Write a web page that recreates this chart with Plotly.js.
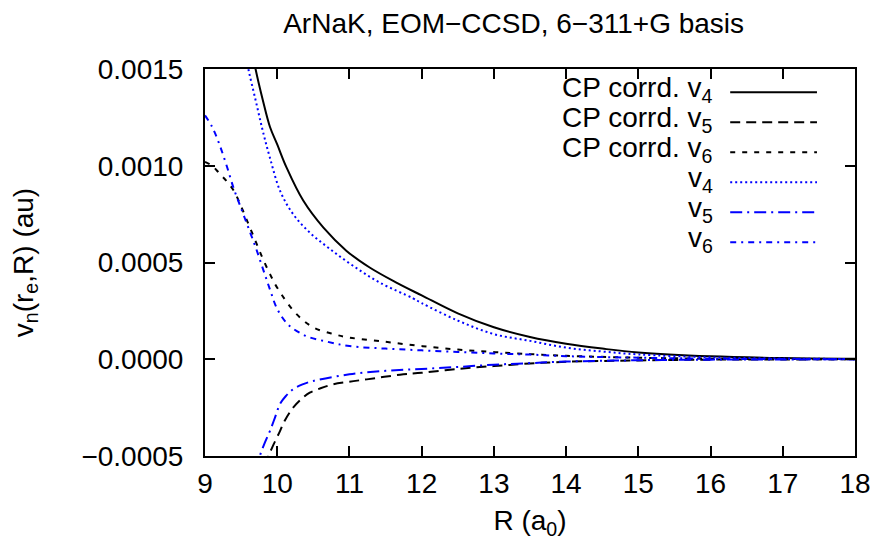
<!DOCTYPE html>
<html>
<head>
<meta charset="utf-8">
<script src="https://cdn.plot.ly/plotly-3.0.1.min.js"></script>
<style>html,body{margin:0;padding:0;background:#fff;}#chart{width:878px;height:548px;}</style>
</head>
<body>
<div id="chart"></div>
<script>
// ---- data ----
const cpV4X = [9.65, 9.70, 9.8, 9.9, 10.0, 10.13, 10.36, 10.64, 10.96, 11.28, 11.65, 12.0, 12.5, 13.0, 13.5, 14, 14.5, 15, 16, 17, 18];
const cpV4Y = [0.0016, 0.0015, 0.00134, 0.0012, 0.00111, 0.00099, 0.00082, 0.00068, 0.00056, 0.000474, 0.000396, 0.00033, 0.000237, 0.000165, 0.000115, 0.00008, 0.000055, 0.000035, 0.000015, 0.000006, 0.000002];

const cpV5X = [9.85, 9.88, 9.95, 10.04, 10.1, 10.22, 10.35, 10.45, 10.6, 10.77, 11.0, 11.24, 11.7, 12, 12.5, 13, 13.5, 14, 15, 16, 17, 18];
const cpV5Y = [-0.00055, -0.0005, -0.00044, -0.00037, -0.00032, -0.00025, -0.0002, -0.000173, -0.00015, -0.00013, -0.000116, -0.000104, -0.00008, -0.00007, -0.00005, -0.000035, -0.000022, -0.000013, -0.000006, -0.000002, -0.000001, 0];

const cpV6X = [9.0, 9.1, 9.2, 9.3, 9.4, 9.5, 9.6, 9.7, 9.8, 9.9, 10.0, 10.25, 10.5, 10.8, 11, 11.5, 12, 12.5, 13, 13.5, 14, 15, 16, 17, 18];
const cpV6Y = [0.00102, 0.001, 0.00096, 0.00092, 0.00087, 0.00079, 0.0007, 0.00061, 0.00052, 0.00044, 0.00037, 0.00024, 0.000165, 0.000128, 0.000112, 0.00009, 0.000068, 0.00005, 0.000037, 0.000027, 0.000018, 0.000008, 0.000003, 0.000001, 0];

const v4X = [9.55, 9.6, 9.7, 9.8, 9.9, 10.04, 10.22, 10.45, 10.73, 11.05, 11.42, 11.88, 12.0, 12.5, 13, 13.5, 14, 14.5, 15, 16, 17, 18];
const v4Y = [0.0016, 0.0015, 0.00134, 0.00118, 0.00104, 0.00087, 0.00075, 0.000655, 0.00057, 0.000483, 0.000396, 0.000315, 0.00029, 0.0002, 0.00013, 0.000095, 0.00006, 0.00004, 0.000025, 0.00001, 0.000004, 0.000001];

const v5X = [9.72, 9.76, 9.83, 9.9, 9.97, 10.04, 10.12, 10.22, 10.35, 10.5, 11, 11.5, 12, 12.5, 13, 13.5, 14, 15, 16, 17, 18];
const v5Y = [-0.00058, -0.0005, -0.00043, -0.00037, -0.0003, -0.00023, -0.00019, -0.000155, -0.00013, -0.000112, -0.000078, -0.00006, -0.00005, -0.00004, -0.000028, -0.00002, -0.000012, -0.000005, -0.000002, -0.000001, 0];

const v6X = [9.0, 9.1, 9.2, 9.3, 9.4, 9.5, 9.6, 9.7, 9.8, 9.9, 10.0, 10.15, 10.4, 10.7, 11, 11.5, 12, 12.5, 13, 13.5, 14, 15, 16, 17, 18];
const v6Y = [0.00126, 0.0012, 0.00111, 0.001, 0.00088, 0.00078, 0.00068, 0.00058, 0.00047, 0.00036, 0.00026, 0.00018, 0.00012, 0.00009, 0.000068, 0.000055, 0.000046, 0.000038, 0.00003, 0.000024, 0.000016, 0.000008, 0.000003, 0.000001, 0];

const seriesNames = ['CP corrd. v<sub>4</sub>', 'CP corrd. v<sub>5</sub>', 'CP corrd. v<sub>6</sub>', 'v<sub>4</sub>', 'v<sub>5</sub>', 'v<sub>6</sub>'];
const xTicks = [9, 10, 11, 12, 13, 14, 15, 16, 17, 18];
const yTicks = [-0.0005, 0, 0.0005, 0.001, 0.0015];

// ---- styles ----
const styles = [
  {color: '#000000', dash: 'solid'},
  {color: '#000000', dash: '10px,6px'},
  {color: '#000000', dash: '5px,7px'},
  {color: '#0000ff', dash: '2px,3px'},
  {color: '#0000ff', dash: '12px,5px,2px,5px'},
  {color: '#0000ff', dash: '6px,5px,2px,5px'}
];
const xs = [cpV4X, cpV5X, cpV6X, v4X, v5X, v6X];
const ys = [cpV4Y, cpV5Y, cpV6Y, v4Y, v5Y, v6Y];

const traces = xs.map((x, i) => ({
  x: x, y: ys[i], type: 'scatter', mode: 'lines', name: seriesNames[i],
  line: {color: styles[i].color, dash: styles[i].dash, width: 2, shape: 'spline', smoothing: 1.0},
  showlegend: false, hoverinfo: 'skip'
}));

const FONT = 'Liberation Sans, Arial, Helvetica, sans-serif';
const FS = 28;

// manual gnuplot-style key: text right-aligned, sample line at right
const shapes = [];
const annotations = [];
const rowY0 = 0.940, rowStep = 0.0775;
for (let i = 0; i < 6; i++) {
  const yy = rowY0 - i * rowStep;
  shapes.push({type: 'line', xref: 'paper', yref: 'paper', x0: 0.808, x1: 0.9415, y0: yy, y1: yy,
    line: {color: styles[i].color, width: 2, dash: styles[i].dash}});
  annotations.push({xref: 'paper', yref: 'paper', x: 0.785, y: yy + 0.008, xanchor: 'right', yanchor: 'middle',
    text: seriesNames[i], showarrow: false, font: {family: FONT, size: FS, color: '#000'}});
}

const layout = {
  width: 878, height: 548,
  margin: {l: 205, r: 23, t: 69, b: 92},
  paper_bgcolor: '#fff', plot_bgcolor: '#fff',
  font: {family: FONT, size: FS, color: '#000'},
  title: {text: 'ArNaK, EOM\u2212CCSD, 6\u2212311+G basis', x: 0.585, xanchor: 'center', y: 0.958, yanchor: 'middle',
    font: {family: FONT, size: FS, color: '#000'}},
  xaxis: {
    range: [9, 18], tickvals: xTicks, ticktext: xTicks.map(String),
    ticks: 'inside', ticklen: 10, tickwidth: 2, tickcolor: '#000',
    showline: true, linewidth: 2, linecolor: '#000', mirror: 'allticks',
    showgrid: false, zeroline: false, ticklabelstandoff: 1,
    title: {text: 'R (a<sub>0</sub>)', font: {family: FONT, size: FS}, standoff: 13}
  },
  yaxis: {
    range: [-0.0005, 0.0015], tickvals: yTicks, tickformat: '.4f',
    ticks: 'inside', ticklen: 10, tickwidth: 2, tickcolor: '#000',
    showline: true, linewidth: 2, linecolor: '#000', mirror: 'allticks',
    showgrid: false, zeroline: false, ticklabelstandoff: 14,
    title: {text: 'v<sub>n</sub>(r<sub>e</sub>,R) (au)', font: {family: FONT, size: FS}, standoff: 40}
  },
  shapes: shapes,
  annotations: annotations,
  showlegend: false
};

Plotly.newPlot('chart', traces, layout, {staticPlot: true, displayModeBar: false});
</script>
</body>
</html>
